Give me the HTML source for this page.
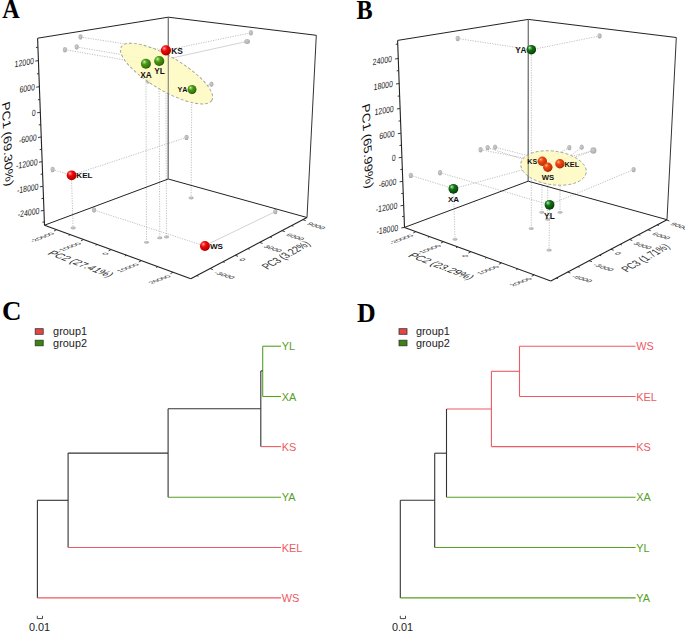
<!DOCTYPE html><html><head><meta charset="utf-8"><style>html,body{margin:0;padding:0;background:#fff;}svg{display:block;}text{font-kerning:none;}</style></head><body>
<svg width="685" height="632" viewBox="0 0 685 632">
<defs>
<radialGradient id="rb" cx="0.4" cy="0.36" r="0.66" fx="0.33" fy="0.3">
<stop offset="0" stop-color="#ffd0d0"/><stop offset="0.14" stop-color="#ff6060"/><stop offset="0.4" stop-color="#ee0808"/><stop offset="0.8" stop-color="#c80000"/><stop offset="1" stop-color="#8a0000"/></radialGradient>
<radialGradient id="gb" cx="0.4" cy="0.36" r="0.66" fx="0.33" fy="0.3">
<stop offset="0" stop-color="#e0ffc0"/><stop offset="0.14" stop-color="#90d058"/><stop offset="0.4" stop-color="#4a9818"/><stop offset="0.8" stop-color="#357808"/><stop offset="1" stop-color="#204c00"/></radialGradient>
<radialGradient id="dgb" cx="0.4" cy="0.36" r="0.66" fx="0.33" fy="0.3">
<stop offset="0" stop-color="#e8ffe8"/><stop offset="0.14" stop-color="#70b870"/><stop offset="0.4" stop-color="#137013"/><stop offset="0.8" stop-color="#085008"/><stop offset="1" stop-color="#032c03"/></radialGradient>
<radialGradient id="ob" cx="0.4" cy="0.36" r="0.66" fx="0.33" fy="0.3">
<stop offset="0" stop-color="#ffd0b0"/><stop offset="0.14" stop-color="#ff7a40"/><stop offset="0.4" stop-color="#e84412"/><stop offset="0.8" stop-color="#cc3406"/><stop offset="1" stop-color="#8a1c00"/></radialGradient>
<radialGradient id="gg" cx="0.4" cy="0.4" r="0.6">
<stop offset="0" stop-color="#cccccc"/><stop offset="1" stop-color="#aaaaaa"/></radialGradient>
</defs>
<g transform="translate(0,0)">
<line x1="80.5" y1="37" x2="165.8" y2="50.3" stroke="#b0b0b0" stroke-width="0.8" stroke-dasharray="1.2,1.3"/>
<line x1="76.7" y1="47" x2="159" y2="60.9" stroke="#b0b0b0" stroke-width="0.8" stroke-dasharray="1.2,1.3"/>
<line x1="64.9" y1="49.7" x2="145.9" y2="63.6" stroke="#b0b0b0" stroke-width="0.8" stroke-dasharray="1.2,1.3"/>
<line x1="250.9" y1="32.8" x2="165.8" y2="50.3" stroke="#b0b0b0" stroke-width="0.8" stroke-dasharray="1.2,1.3"/>
<line x1="247.1" y1="41.4" x2="159" y2="60.9" stroke="#c8c8c8" stroke-width="0.8"/>
<line x1="211.4" y1="84.3" x2="191.8" y2="89.4" stroke="#b0b0b0" stroke-width="0.8" stroke-dasharray="1.2,1.3"/>
<line x1="52.6" y1="169.5" x2="71.4" y2="175.3" stroke="#b0b0b0" stroke-width="0.8" stroke-dasharray="1.2,1.3"/>
<line x1="186.5" y1="137.4" x2="71.4" y2="175.3" stroke="#b0b0b0" stroke-width="0.8" stroke-dasharray="1.2,1.3"/>
<line x1="94" y1="210" x2="204.4" y2="245.9" stroke="#b0b0b0" stroke-width="0.8" stroke-dasharray="1.2,1.3"/>
<line x1="275.3" y1="211.6" x2="204.4" y2="245.9" stroke="#c8c8c8" stroke-width="0.8"/>
<line x1="71.4" y1="175.3" x2="73.1" y2="228" stroke="#b0b0b0" stroke-width="0.8" stroke-dasharray="1.2,1.3"/>
<line x1="145.9" y1="63.6" x2="146.5" y2="242.3" stroke="#b0b0b0" stroke-width="0.8" stroke-dasharray="1.2,1.3"/>
<line x1="159" y1="60.9" x2="159.8" y2="237.9" stroke="#b0b0b0" stroke-width="0.8" stroke-dasharray="1.2,1.3"/>
<line x1="165.8" y1="50.3" x2="166.5" y2="237" stroke="#b0b0b0" stroke-width="0.8" stroke-dasharray="1.2,1.3"/>
<line x1="191.8" y1="89.4" x2="191.1" y2="198" stroke="#b0b0b0" stroke-width="0.8" stroke-dasharray="1.2,1.3"/>
<ellipse cx="80.5" cy="37" rx="2.1" ry="2.69" fill="url(#gg)"/>
<ellipse cx="76.7" cy="47" rx="2.1" ry="2.69" fill="url(#gg)"/>
<ellipse cx="64.9" cy="49.7" rx="2.1" ry="2.69" fill="url(#gg)"/>
<ellipse cx="250.9" cy="32.8" rx="2.1" ry="2.69" fill="url(#gg)"/>
<ellipse cx="247.1" cy="41.4" rx="2.9" ry="2.5" fill="url(#gg)"/>
<ellipse cx="211.4" cy="84.3" rx="2.1" ry="2.69" fill="url(#gg)"/>
<ellipse cx="52.6" cy="169.5" rx="2.1" ry="2.69" fill="url(#gg)"/>
<ellipse cx="186.5" cy="137.4" rx="2.1" ry="2.69" fill="url(#gg)"/>
<ellipse cx="275.3" cy="211.6" rx="2.1" ry="2.69" fill="url(#gg)"/>
<ellipse cx="94" cy="210" rx="2.1" ry="2.69" fill="url(#gg)"/>
<ellipse cx="73.1" cy="228" rx="2.6" ry="1.4" fill="url(#gg)"/>
<ellipse cx="146.5" cy="242.3" rx="2.6" ry="1.4" fill="url(#gg)"/>
<ellipse cx="159.8" cy="237.9" rx="2.6" ry="1.4" fill="url(#gg)"/>
<ellipse cx="166.5" cy="237" rx="2.6" ry="1.4" fill="url(#gg)"/>
<ellipse cx="191.1" cy="198" rx="2.6" ry="1.4" fill="url(#gg)"/>
<ellipse cx="148.3" cy="80.7" rx="2.2" ry="2.82" fill="url(#gg)"/>
<line x1="168.3" y1="17.2" x2="168.2" y2="179" stroke="#777" stroke-width="1"/>
<line x1="44.5" y1="225.2" x2="168.2" y2="179" stroke="#222" stroke-width="1"/>
<line x1="168.2" y1="179" x2="307" y2="217.5" stroke="#222" stroke-width="1"/>
<line x1="37.6" y1="38.2" x2="168.3" y2="17.2" stroke="#222" stroke-width="1"/>
<line x1="168.3" y1="17.2" x2="316.3" y2="35.3" stroke="#222" stroke-width="1"/>
<line x1="316.3" y1="35.3" x2="307" y2="217.5" stroke="#333" stroke-width="1"/>
<line x1="44.5" y1="225.2" x2="37.6" y2="38.2" stroke="#222" stroke-width="1.1"/>
<line x1="44.5" y1="225.2" x2="190.8" y2="278.7" stroke="#222" stroke-width="1.1"/>
<line x1="190.8" y1="278.7" x2="307" y2="217.5" stroke="#222" stroke-width="1.1"/>
<ellipse cx="166.6" cy="73.6" rx="52.6" ry="16.8" transform="rotate(30.5 166.6 73.6)" fill="#fffac0" fill-opacity="0.85" stroke="#a0a098" stroke-width="0.9" stroke-dasharray="3,2"/>
<line x1="168.3" y1="17.2" x2="168.2" y2="179" stroke="#777" stroke-width="1"/>
<line x1="35.93" y1="47.5" x2="37.93" y2="47.2" stroke="#222" stroke-width="0.9"/>
<line x1="35.23" y1="61.1" x2="38.43" y2="60.6" stroke="#222" stroke-width="0.9"/>
<text x="0" y="0" font-family='"Liberation Sans", sans-serif' font-size="8.9" fill="#222" text-anchor="end" font-weight="normal" transform="matrix(0.7780 -0.1374 -0.0300 0.9996 33.83 63.90)">12000</text>
<line x1="36.91" y1="73.9" x2="38.91" y2="73.6" stroke="#222" stroke-width="0.9"/>
<line x1="36.19" y1="87.2" x2="39.39" y2="86.7" stroke="#222" stroke-width="0.9"/>
<text x="0" y="0" font-family='"Liberation Sans", sans-serif' font-size="8.9" fill="#222" text-anchor="end" font-weight="normal" transform="matrix(0.7780 -0.1374 -0.0300 0.9996 34.79 90.00)">6000</text>
<line x1="37.86" y1="99.8" x2="39.86" y2="99.5" stroke="#222" stroke-width="0.9"/>
<line x1="37.13" y1="112.8" x2="40.33" y2="112.3" stroke="#222" stroke-width="0.9"/>
<text x="0" y="0" font-family='"Liberation Sans", sans-serif' font-size="8.9" fill="#222" text-anchor="end" font-weight="normal" transform="matrix(0.7780 -0.1374 -0.0300 0.9996 35.73 115.60)">0</text>
<line x1="38.79" y1="124.9" x2="40.79" y2="124.6" stroke="#222" stroke-width="0.9"/>
<line x1="38.05" y1="137.5" x2="41.25" y2="137" stroke="#222" stroke-width="0.9"/>
<text x="0" y="0" font-family='"Liberation Sans", sans-serif' font-size="8.9" fill="#222" text-anchor="end" font-weight="normal" transform="matrix(0.7780 -0.1374 -0.0300 0.9996 36.65 140.30)">-6000</text>
<line x1="39.7" y1="149.6" x2="41.7" y2="149.3" stroke="#222" stroke-width="0.9"/>
<line x1="38.96" y1="162.2" x2="42.16" y2="161.7" stroke="#222" stroke-width="0.9"/>
<text x="0" y="0" font-family='"Liberation Sans", sans-serif' font-size="8.9" fill="#222" text-anchor="end" font-weight="normal" transform="matrix(0.7780 -0.1374 -0.0300 0.9996 37.56 165.00)">-12000</text>
<line x1="40.61" y1="174.3" x2="42.61" y2="174" stroke="#222" stroke-width="0.9"/>
<line x1="39.86" y1="186.8" x2="43.06" y2="186.3" stroke="#222" stroke-width="0.9"/>
<text x="0" y="0" font-family='"Liberation Sans", sans-serif' font-size="8.9" fill="#222" text-anchor="end" font-weight="normal" transform="matrix(0.7780 -0.1374 -0.0300 0.9996 38.46 189.60)">-18000</text>
<line x1="41.51" y1="198.6" x2="43.51" y2="198.3" stroke="#222" stroke-width="0.9"/>
<line x1="40.75" y1="210.9" x2="43.95" y2="210.4" stroke="#222" stroke-width="0.9"/>
<text x="0" y="0" font-family='"Liberation Sans", sans-serif' font-size="8.9" fill="#222" text-anchor="end" font-weight="normal" transform="matrix(0.7780 -0.1374 -0.0300 0.9996 39.35 213.70)">-24000</text>
<line x1="42.38" y1="222.2" x2="44.38" y2="221.9" stroke="#222" stroke-width="0.9"/>
<line x1="56.64" y1="229.64" x2="54.04" y2="231.04" stroke="#222" stroke-width="0.9"/>
<text x="0" y="0" font-family='"Liberation Sans", sans-serif' font-size="8.0" fill="#333" text-anchor="end" font-weight="normal" transform="matrix(0.8871 -0.3400 0.7523 0.2721 55.04 233.84)">-20000</text>
<line x1="70.25" y1="234.62" x2="68.65" y2="235.47" stroke="#222" stroke-width="0.9"/>
<line x1="83.56" y1="239.48" x2="80.96" y2="240.88" stroke="#222" stroke-width="0.9"/>
<text x="0" y="0" font-family='"Liberation Sans", sans-serif' font-size="8.0" fill="#333" text-anchor="end" font-weight="normal" transform="matrix(0.8871 -0.3400 0.7523 0.2721 81.96 243.68)">-10000</text>
<line x1="97.17" y1="244.46" x2="95.57" y2="245.31" stroke="#222" stroke-width="0.9"/>
<line x1="111.07" y1="249.54" x2="108.47" y2="250.94" stroke="#222" stroke-width="0.9"/>
<text x="0" y="0" font-family='"Liberation Sans", sans-serif' font-size="8.0" fill="#333" text-anchor="end" font-weight="normal" transform="matrix(0.8871 -0.3400 0.7523 0.2721 109.47 253.74)">0</text>
<line x1="126.43" y1="255.16" x2="124.83" y2="256.01" stroke="#222" stroke-width="0.9"/>
<line x1="141.35" y1="260.62" x2="138.75" y2="262.02" stroke="#222" stroke-width="0.9"/>
<text x="0" y="0" font-family='"Liberation Sans", sans-serif' font-size="8.0" fill="#333" text-anchor="end" font-weight="normal" transform="matrix(0.8871 -0.3400 0.7523 0.2721 139.75 264.82)">10000</text>
<line x1="157.74" y1="266.61" x2="156.14" y2="267.46" stroke="#222" stroke-width="0.9"/>
<line x1="173.1" y1="272.23" x2="170.5" y2="273.63" stroke="#222" stroke-width="0.9"/>
<text x="0" y="0" font-family='"Liberation Sans", sans-serif' font-size="8.0" fill="#333" text-anchor="end" font-weight="normal" transform="matrix(0.8871 -0.3400 0.7523 0.2721 171.50 276.43)">20000</text>
<line x1="196.73" y1="275.58" x2="198.43" y2="276.18" stroke="#222" stroke-width="0.9"/>
<line x1="210.09" y1="268.54" x2="212.89" y2="269.54" stroke="#222" stroke-width="0.9"/>
<text x="0" y="0" font-family='"Liberation Sans", sans-serif' font-size="8.0" fill="#333" text-anchor="start" font-weight="normal" transform="matrix(0.9031 0.2947 -0.7057 0.3769 213.29 273.14)">-3000</text>
<line x1="222.99" y1="261.75" x2="224.69" y2="262.35" stroke="#222" stroke-width="0.9"/>
<line x1="235.19" y1="255.32" x2="237.99" y2="256.32" stroke="#222" stroke-width="0.9"/>
<text x="0" y="0" font-family='"Liberation Sans", sans-serif' font-size="8.0" fill="#333" text-anchor="start" font-weight="normal" transform="matrix(0.9031 0.2947 -0.7057 0.3769 238.39 259.92)">0</text>
<line x1="247.97" y1="248.59" x2="249.67" y2="249.19" stroke="#222" stroke-width="0.9"/>
<line x1="259.71" y1="242.41" x2="262.51" y2="243.41" stroke="#222" stroke-width="0.9"/>
<text x="0" y="0" font-family='"Liberation Sans", sans-serif' font-size="8.0" fill="#333" text-anchor="start" font-weight="normal" transform="matrix(0.9031 0.2947 -0.7057 0.3769 262.91 247.01)">3000</text>
<line x1="270.16" y1="236.9" x2="271.86" y2="237.5" stroke="#222" stroke-width="0.9"/>
<line x1="282.02" y1="230.66" x2="284.82" y2="231.66" stroke="#222" stroke-width="0.9"/>
<text x="0" y="0" font-family='"Liberation Sans", sans-serif' font-size="8.0" fill="#333" text-anchor="start" font-weight="normal" transform="matrix(0.9031 0.2947 -0.7057 0.3769 285.22 235.26)">6000</text>
<line x1="291.66" y1="225.58" x2="293.36" y2="226.18" stroke="#222" stroke-width="0.9"/>
<line x1="302.93" y1="219.64" x2="305.73" y2="220.64" stroke="#222" stroke-width="0.9"/>
<text x="0" y="0" font-family='"Liberation Sans", sans-serif' font-size="8.0" fill="#333" text-anchor="start" font-weight="normal" transform="matrix(0.9031 0.2947 -0.7057 0.3769 306.13 224.24)">9000</text>
<text x="0" y="0" font-family='"Liberation Sans", sans-serif' font-size="12.5" fill="#111" text-anchor="start" font-weight="normal" transform="matrix(0.0481 1.0689 -0.8899 0.3324 1.90 103.40)">PC1 (69.30%)</text>
<text x="0" y="0" font-family='"Liberation Sans", sans-serif' font-size="11" fill="#2a2a2a" text-anchor="start" font-weight="normal" transform="matrix(0.8964 0.3436 -0.8601 0.5101 46.80 253.90)">PC2 (27.41%)</text>
<text x="0" y="0" font-family='"Liberation Sans", sans-serif' font-size="11" fill="#333" text-anchor="start" font-weight="normal" transform="matrix(0.6928 -0.4000 0.8910 0.5556 267.40 269.80)">PC3 (3.22%)</text>
<circle cx="71.6" cy="175.3" r="4.9" fill="url(#rb)"/>
<text x="76.3" y="177.9" font-family='"Liberation Sans", sans-serif' font-size="8.1" fill="#111" text-anchor="start" font-weight="bold">KEL</text>
<circle cx="165.9" cy="50.3" r="5.1" fill="url(#rb)"/>
<text x="171.3" y="53.5" font-family='"Liberation Sans", sans-serif' font-size="8.3" fill="#111" text-anchor="start" font-weight="bold">KS</text>
<circle cx="145.9" cy="63.8" r="5" fill="url(#gb)"/>
<text x="146" y="77.5" font-family='"Liberation Sans", sans-serif' font-size="8.3" fill="#111" text-anchor="middle" font-weight="bold">XA</text>
<circle cx="159.2" cy="61" r="5.1" fill="url(#gb)"/>
<text x="159.45" y="74.4" font-family='"Liberation Sans", sans-serif' font-size="8.3" fill="#111" text-anchor="middle" font-weight="bold">YL</text>
<circle cx="192" cy="89.5" r="4.45" fill="url(#gb)"/>
<text x="187.4" y="91.8" font-family='"Liberation Sans", sans-serif' font-size="7.2" fill="#111" text-anchor="end" font-weight="bold">YA</text>
<circle cx="204.9" cy="246" r="4.95" fill="url(#rb)"/>
<text x="209.9" y="248.9" font-family='"Liberation Sans", sans-serif' font-size="8.1" fill="#111" text-anchor="start" font-weight="bold">WS</text>
</g>
<g transform="translate(360,2.2)">
<line x1="97.7" y1="36.3" x2="171.3" y2="47.5" stroke="#b0b0b0" stroke-width="0.8" stroke-dasharray="1.2,1.3"/>
<line x1="239.6" y1="33.8" x2="171.3" y2="47.5" stroke="#b0b0b0" stroke-width="0.8" stroke-dasharray="1.2,1.3"/>
<line x1="171.3" y1="47.5" x2="171.3" y2="226.4" stroke="#b0b0b0" stroke-width="0.8" stroke-dasharray="1.2,1.3"/>
<line x1="50.8" y1="173.2" x2="93.5" y2="186.5" stroke="#b0b0b0" stroke-width="0.8" stroke-dasharray="1.2,1.3"/>
<line x1="93.5" y1="186.5" x2="95" y2="237.1" stroke="#b0b0b0" stroke-width="0.8" stroke-dasharray="1.2,1.3"/>
<line x1="273.6" y1="167.4" x2="189.5" y2="202.6" stroke="#b0b0b0" stroke-width="0.8" stroke-dasharray="1.2,1.3"/>
<line x1="189.5" y1="202.6" x2="189.1" y2="248" stroke="#b0b0b0" stroke-width="0.8" stroke-dasharray="1.2,1.3"/>
<line x1="80" y1="170.5" x2="189.5" y2="202.6" stroke="#b0b0b0" stroke-width="0.8" stroke-dasharray="1.2,1.3"/>
<line x1="93.4" y1="186.6" x2="233.4" y2="148.3" stroke="#b0b0b0" stroke-width="0.8" stroke-dasharray="1.2,1.3"/>
<line x1="120.6" y1="147.5" x2="182.2" y2="159.4" stroke="#b0b0b0" stroke-width="0.8" stroke-dasharray="1.2,1.3"/>
<line x1="127.6" y1="145.4" x2="187.8" y2="165.2" stroke="#b0b0b0" stroke-width="0.8" stroke-dasharray="1.2,1.3"/>
<line x1="135" y1="145.1" x2="200" y2="161.5" stroke="#b0b0b0" stroke-width="0.8" stroke-dasharray="1.2,1.3"/>
<line x1="209.3" y1="145.4" x2="182.2" y2="159.4" stroke="#b0b0b0" stroke-width="0.8" stroke-dasharray="1.2,1.3"/>
<line x1="221.7" y1="145.1" x2="200" y2="161.5" stroke="#b0b0b0" stroke-width="0.8" stroke-dasharray="1.2,1.3"/>
<line x1="233.4" y1="148.3" x2="187.8" y2="165.2" stroke="#b0b0b0" stroke-width="0.8" stroke-dasharray="1.2,1.3"/>
<line x1="182.2" y1="159.4" x2="181.8" y2="210.1" stroke="#b0b0b0" stroke-width="0.8" stroke-dasharray="1.2,1.3"/>
<line x1="187.8" y1="165.2" x2="187.6" y2="217.1" stroke="#b0b0b0" stroke-width="0.8" stroke-dasharray="1.2,1.3"/>
<line x1="200" y1="161.5" x2="200" y2="210.1" stroke="#b0b0b0" stroke-width="0.8" stroke-dasharray="1.2,1.3"/>
<ellipse cx="97.7" cy="36.3" rx="2.1" ry="2.69" fill="url(#gg)"/>
<ellipse cx="239.6" cy="33.8" rx="2.1" ry="2.69" fill="url(#gg)"/>
<ellipse cx="50.8" cy="173.2" rx="2.1" ry="2.69" fill="url(#gg)"/>
<ellipse cx="80" cy="170.5" rx="2.1" ry="2.69" fill="url(#gg)"/>
<ellipse cx="273.6" cy="167.4" rx="2.1" ry="2.69" fill="url(#gg)"/>
<ellipse cx="120.6" cy="147.5" rx="2.1" ry="2.69" fill="url(#gg)"/>
<ellipse cx="127.6" cy="145.4" rx="2.1" ry="2.69" fill="url(#gg)"/>
<ellipse cx="135" cy="145.1" rx="2.1" ry="2.69" fill="url(#gg)"/>
<ellipse cx="209.3" cy="145.4" rx="2.1" ry="2.69" fill="url(#gg)"/>
<ellipse cx="221.7" cy="145.1" rx="2.1" ry="2.69" fill="url(#gg)"/>
<ellipse cx="233.4" cy="148.3" rx="3" ry="3.3" fill="url(#gg)"/>
<ellipse cx="95" cy="237.1" rx="2.6" ry="1.4" fill="url(#gg)"/>
<ellipse cx="189.1" cy="248" rx="2.6" ry="1.4" fill="url(#gg)"/>
<ellipse cx="171.2" cy="226.4" rx="2.6" ry="1.4" fill="url(#gg)"/>
<ellipse cx="181.8" cy="210.1" rx="2.6" ry="1.4" fill="url(#gg)"/>
<ellipse cx="200" cy="210.1" rx="2.6" ry="1.4" fill="url(#gg)"/>
<ellipse cx="187.6" cy="217.1" rx="2.6" ry="1.4" fill="url(#gg)"/>
<line x1="168.3" y1="17.2" x2="168.2" y2="179" stroke="#777" stroke-width="1"/>
<line x1="44.5" y1="225.2" x2="168.2" y2="179" stroke="#222" stroke-width="1"/>
<line x1="168.2" y1="179" x2="307" y2="217.5" stroke="#222" stroke-width="1"/>
<line x1="37.6" y1="38.2" x2="168.3" y2="17.2" stroke="#222" stroke-width="1"/>
<line x1="168.3" y1="17.2" x2="316.3" y2="35.3" stroke="#222" stroke-width="1"/>
<line x1="316.3" y1="35.3" x2="307" y2="217.5" stroke="#333" stroke-width="1"/>
<line x1="44.5" y1="225.2" x2="37.6" y2="38.2" stroke="#222" stroke-width="1.1"/>
<line x1="44.5" y1="225.2" x2="190.8" y2="278.7" stroke="#222" stroke-width="1.1"/>
<line x1="190.8" y1="278.7" x2="307" y2="217.5" stroke="#222" stroke-width="1.1"/>
<ellipse cx="193.5" cy="165.8" rx="33" ry="16.8" transform="rotate(8 193.5 165.8)" fill="#fffac0" fill-opacity="0.85" stroke="#a0a098" stroke-width="0.9" stroke-dasharray="3,2"/>
<line x1="168.3" y1="17.2" x2="168.2" y2="179" stroke="#777" stroke-width="1"/>
<line x1="35.73" y1="42.1" x2="37.73" y2="41.8" stroke="#222" stroke-width="0.9"/>
<line x1="35.07" y1="56.8" x2="38.27" y2="56.3" stroke="#222" stroke-width="0.9"/>
<text x="0" y="0" font-family='"Liberation Sans", sans-serif' font-size="8.9" fill="#222" text-anchor="end" font-weight="normal" transform="matrix(0.7780 -0.1374 -0.0300 0.9996 31.87 59.60)">24000</text>
<line x1="36.71" y1="68.7" x2="38.71" y2="68.4" stroke="#222" stroke-width="0.9"/>
<line x1="35.99" y1="81.8" x2="39.19" y2="81.3" stroke="#222" stroke-width="0.9"/>
<text x="0" y="0" font-family='"Liberation Sans", sans-serif' font-size="8.9" fill="#222" text-anchor="end" font-weight="normal" transform="matrix(0.7780 -0.1374 -0.0300 0.9996 32.79 84.60)">18000</text>
<line x1="37.65" y1="94" x2="39.65" y2="93.7" stroke="#222" stroke-width="0.9"/>
<line x1="36.91" y1="106.8" x2="40.11" y2="106.3" stroke="#222" stroke-width="0.9"/>
<text x="0" y="0" font-family='"Liberation Sans", sans-serif' font-size="8.9" fill="#222" text-anchor="end" font-weight="normal" transform="matrix(0.7780 -0.1374 -0.0300 0.9996 33.71 109.60)">12000</text>
<line x1="38.57" y1="118.9" x2="40.57" y2="118.6" stroke="#222" stroke-width="0.9"/>
<line x1="37.82" y1="131.5" x2="41.02" y2="131" stroke="#222" stroke-width="0.9"/>
<text x="0" y="0" font-family='"Liberation Sans", sans-serif' font-size="8.9" fill="#222" text-anchor="end" font-weight="normal" transform="matrix(0.7780 -0.1374 -0.0300 0.9996 34.62 134.30)">6000</text>
<line x1="39.47" y1="143.3" x2="41.47" y2="143" stroke="#222" stroke-width="0.9"/>
<line x1="38.71" y1="155.6" x2="41.91" y2="155.1" stroke="#222" stroke-width="0.9"/>
<text x="0" y="0" font-family='"Liberation Sans", sans-serif' font-size="8.9" fill="#222" text-anchor="end" font-weight="normal" transform="matrix(0.7780 -0.1374 -0.0300 0.9996 35.51 158.40)">0</text>
<line x1="40.36" y1="167.4" x2="42.36" y2="167.1" stroke="#222" stroke-width="0.9"/>
<line x1="39.6" y1="179.6" x2="42.8" y2="179.1" stroke="#222" stroke-width="0.9"/>
<text x="0" y="0" font-family='"Liberation Sans", sans-serif' font-size="8.9" fill="#222" text-anchor="end" font-weight="normal" transform="matrix(0.7780 -0.1374 -0.0300 0.9996 36.40 182.40)">-6000</text>
<line x1="41.24" y1="191.4" x2="43.24" y2="191.1" stroke="#222" stroke-width="0.9"/>
<line x1="40.48" y1="203.6" x2="43.68" y2="203.1" stroke="#222" stroke-width="0.9"/>
<text x="0" y="0" font-family='"Liberation Sans", sans-serif' font-size="8.9" fill="#222" text-anchor="end" font-weight="normal" transform="matrix(0.7780 -0.1374 -0.0300 0.9996 37.28 206.40)">-12000</text>
<line x1="42.09" y1="214.4" x2="44.09" y2="214.1" stroke="#222" stroke-width="0.9"/>
<line x1="41.3" y1="225.7" x2="44.5" y2="225.2" stroke="#222" stroke-width="0.9"/>
<text x="0" y="0" font-family='"Liberation Sans", sans-serif' font-size="8.9" fill="#222" text-anchor="end" font-weight="normal" transform="matrix(0.7780 -0.1374 -0.0300 0.9996 38.10 228.50)">-18000</text>
<line x1="55.91" y1="229.37" x2="53.31" y2="230.77" stroke="#222" stroke-width="0.9"/>
<text x="0" y="0" font-family='"Liberation Sans", sans-serif' font-size="8.0" fill="#333" text-anchor="end" font-weight="normal" transform="matrix(0.8871 -0.3400 0.7523 0.2721 54.31 233.57)">-20000</text>
<line x1="69.52" y1="234.35" x2="67.92" y2="235.2" stroke="#222" stroke-width="0.9"/>
<line x1="83.56" y1="239.48" x2="80.96" y2="240.88" stroke="#222" stroke-width="0.9"/>
<text x="0" y="0" font-family='"Liberation Sans", sans-serif' font-size="8.0" fill="#333" text-anchor="end" font-weight="normal" transform="matrix(0.8871 -0.3400 0.7523 0.2721 81.96 243.68)">-10000</text>
<line x1="97.61" y1="244.62" x2="96.01" y2="245.47" stroke="#222" stroke-width="0.9"/>
<line x1="110.92" y1="249.49" x2="108.32" y2="250.89" stroke="#222" stroke-width="0.9"/>
<text x="0" y="0" font-family='"Liberation Sans", sans-serif' font-size="8.0" fill="#333" text-anchor="end" font-weight="normal" transform="matrix(0.8871 -0.3400 0.7523 0.2721 109.32 253.69)">0</text>
<line x1="126.72" y1="255.27" x2="125.12" y2="256.12" stroke="#222" stroke-width="0.9"/>
<line x1="141.5" y1="260.67" x2="138.9" y2="262.07" stroke="#222" stroke-width="0.9"/>
<text x="0" y="0" font-family='"Liberation Sans", sans-serif' font-size="8.0" fill="#333" text-anchor="end" font-weight="normal" transform="matrix(0.8871 -0.3400 0.7523 0.2721 139.90 264.87)">10000</text>
<line x1="157.88" y1="266.66" x2="156.28" y2="267.51" stroke="#222" stroke-width="0.9"/>
<line x1="174.27" y1="272.65" x2="171.67" y2="274.05" stroke="#222" stroke-width="0.9"/>
<text x="0" y="0" font-family='"Liberation Sans", sans-serif' font-size="8.0" fill="#333" text-anchor="end" font-weight="normal" transform="matrix(0.8871 -0.3400 0.7523 0.2721 172.67 276.85)">20000</text>
<line x1="196.26" y1="275.82" x2="197.96" y2="276.42" stroke="#222" stroke-width="0.9"/>
<line x1="207.65" y1="269.83" x2="210.45" y2="270.83" stroke="#222" stroke-width="0.9"/>
<text x="0" y="0" font-family='"Liberation Sans", sans-serif' font-size="8.0" fill="#333" text-anchor="start" font-weight="normal" transform="matrix(0.9031 0.2947 -0.7057 0.3769 210.85 274.43)">-6000</text>
<line x1="217.87" y1="264.44" x2="219.57" y2="265.04" stroke="#222" stroke-width="0.9"/>
<line x1="229.15" y1="258.5" x2="231.95" y2="259.5" stroke="#222" stroke-width="0.9"/>
<text x="0" y="0" font-family='"Liberation Sans", sans-serif' font-size="8.0" fill="#333" text-anchor="start" font-weight="normal" transform="matrix(0.9031 0.2947 -0.7057 0.3769 232.35 263.10)">-3000</text>
<line x1="239.6" y1="253" x2="241.3" y2="253.6" stroke="#222" stroke-width="0.9"/>
<line x1="250.88" y1="247.06" x2="253.68" y2="248.06" stroke="#222" stroke-width="0.9"/>
<text x="0" y="0" font-family='"Liberation Sans", sans-serif' font-size="8.0" fill="#333" text-anchor="start" font-weight="normal" transform="matrix(0.9031 0.2947 -0.7057 0.3769 254.08 251.66)">0</text>
<line x1="260.17" y1="242.16" x2="261.87" y2="242.76" stroke="#222" stroke-width="0.9"/>
<line x1="269.47" y1="237.27" x2="272.27" y2="238.27" stroke="#222" stroke-width="0.9"/>
<text x="0" y="0" font-family='"Liberation Sans", sans-serif' font-size="8.0" fill="#333" text-anchor="start" font-weight="normal" transform="matrix(0.9031 0.2947 -0.7057 0.3769 272.67 241.87)">3000</text>
<line x1="278.65" y1="232.43" x2="280.35" y2="233.03" stroke="#222" stroke-width="0.9"/>
<line x1="287.94" y1="227.54" x2="290.74" y2="228.54" stroke="#222" stroke-width="0.9"/>
<text x="0" y="0" font-family='"Liberation Sans", sans-serif' font-size="8.0" fill="#333" text-anchor="start" font-weight="normal" transform="matrix(0.9031 0.2947 -0.7057 0.3769 291.14 232.14)">6000</text>
<line x1="297.24" y1="222.64" x2="298.94" y2="223.24" stroke="#222" stroke-width="0.9"/>
<line x1="306.54" y1="217.74" x2="309.34" y2="218.74" stroke="#222" stroke-width="0.9"/>
<text x="0" y="0" font-family='"Liberation Sans", sans-serif' font-size="8.0" fill="#333" text-anchor="start" font-weight="normal" transform="matrix(0.9031 0.2947 -0.7057 0.3769 309.74 222.34)">9000</text>
<text x="0" y="0" font-family='"Liberation Sans", sans-serif' font-size="12.5" fill="#111" text-anchor="start" font-weight="normal" transform="matrix(0.0481 1.0689 -0.8899 0.3324 1.90 103.40)">PC1 (65.99%)</text>
<text x="0" y="0" font-family='"Liberation Sans", sans-serif' font-size="11" fill="#2a2a2a" text-anchor="start" font-weight="normal" transform="matrix(0.8964 0.3436 -0.8601 0.5101 47.30 254.10)">PC2 (23.29%)</text>
<text x="0" y="0" font-family='"Liberation Sans", sans-serif' font-size="11" fill="#333" text-anchor="start" font-weight="normal" transform="matrix(0.6928 -0.4000 0.8910 0.5556 267.00 270.30)">PC3 (1.71%)</text>
<circle cx="171.3" cy="47.5" r="4.8" fill="url(#dgb)"/>
<text x="166.5" y="51" font-family='"Liberation Sans", sans-serif' font-size="8.2" fill="#111" text-anchor="end" font-weight="bold">YA</text>
<circle cx="93.4" cy="186.6" r="4.9" fill="url(#dgb)"/>
<text x="93.6" y="199.5" font-family='"Liberation Sans", sans-serif' font-size="8.1" fill="#111" text-anchor="middle" font-weight="bold">XA</text>
<circle cx="189.5" cy="202.6" r="4.9" fill="url(#dgb)"/>
<text x="189.4" y="216.4" font-family='"Liberation Sans", sans-serif' font-size="8.3" fill="#111" text-anchor="middle" font-weight="bold">YL</text>
<circle cx="182.3" cy="159.1" r="4.7" fill="url(#ob)"/>
<text x="177.2" y="162.1" font-family='"Liberation Sans", sans-serif' font-size="7.1" fill="#111" text-anchor="end" font-weight="bold">KS</text>
<circle cx="199.9" cy="161.6" r="4.7" fill="url(#ob)"/>
<text x="204.5" y="164.4" font-family='"Liberation Sans", sans-serif' font-size="7.4" fill="#111" text-anchor="start" font-weight="bold">KEL</text>
<circle cx="187.8" cy="165" r="4.7" fill="url(#ob)"/>
<text x="187.9" y="177.4" font-family='"Liberation Sans", sans-serif' font-size="7.7" fill="#111" text-anchor="middle" font-weight="bold">WS</text>
</g>
<text x="0" y="0" font-family='"Liberation Serif", serif' font-size="23.5" fill="#000" text-anchor="start" font-weight="bold" transform="translate(2.3 18.4) scale(1.03 1.12)">A</text>
<text x="0" y="0" font-family='"Liberation Serif", serif' font-size="23.5" fill="#000" text-anchor="start" font-weight="bold" transform="translate(356.5 18.5) scale(1.03 1.12)">B</text>
<text x="0" y="0" font-family='"Liberation Serif", serif' font-size="23.5" fill="#000" text-anchor="start" font-weight="bold" transform="translate(2.1 320) scale(1.15 1.12)">C</text>
<text x="0" y="0" font-family='"Liberation Serif", serif' font-size="23.5" fill="#000" text-anchor="start" font-weight="bold" transform="translate(357 322.4) scale(1.1 1.12)">D</text>
<rect x="35.2" y="328.7" width="8" height="5.6" fill="#e84444" stroke="#333" stroke-width="0.8"/>
<rect x="35.2" y="340.2" width="8" height="5.6" fill="#3a8410" stroke="#333" stroke-width="0.8"/>
<text x="53.1" y="335" font-family='"Liberation Sans", sans-serif' font-size="10.9" fill="#222" text-anchor="start" font-weight="normal">group1</text>
<text x="53.1" y="346.5" font-family='"Liberation Sans", sans-serif' font-size="10.9" fill="#222" text-anchor="start" font-weight="normal">group2</text>
<rect x="399.0" y="328.7" width="8" height="5.6" fill="#e84444" stroke="#333" stroke-width="0.8"/>
<rect x="399.0" y="340.2" width="8" height="5.6" fill="#3a8410" stroke="#333" stroke-width="0.8"/>
<text x="415.9" y="335" font-family='"Liberation Sans", sans-serif' font-size="10.9" fill="#222" text-anchor="start" font-weight="normal">group1</text>
<text x="415.9" y="346.5" font-family='"Liberation Sans", sans-serif' font-size="10.9" fill="#222" text-anchor="start" font-weight="normal">group2</text>
<line x1="262.7" y1="346.2" x2="281" y2="346.2" stroke="#55a025" stroke-width="1.1"/>
<line x1="262.7" y1="396.5" x2="281" y2="396.5" stroke="#55a025" stroke-width="1.1"/>
<line x1="262.7" y1="346.2" x2="262.7" y2="396.5" stroke="#55a025" stroke-width="1.1"/>
<line x1="260.8" y1="446.6" x2="281" y2="446.6" stroke="#ec5a64" stroke-width="1.1"/>
<line x1="260.8" y1="370.9" x2="262.7" y2="370.9" stroke="#333" stroke-width="1.1"/>
<line x1="260.8" y1="370.9" x2="260.8" y2="446.6" stroke="#333" stroke-width="1.1"/>
<line x1="168.1" y1="408.7" x2="260.8" y2="408.7" stroke="#333" stroke-width="1.1"/>
<line x1="168.1" y1="408.7" x2="168.1" y2="497.2" stroke="#333" stroke-width="1.1"/>
<line x1="168.1" y1="497.2" x2="281" y2="497.2" stroke="#55a025" stroke-width="1.1"/>
<line x1="68.1" y1="453.1" x2="168.1" y2="453.1" stroke="#333" stroke-width="1.1"/>
<line x1="68.1" y1="453.1" x2="68.1" y2="547.5" stroke="#333" stroke-width="1.1"/>
<line x1="68.1" y1="547.5" x2="281" y2="547.5" stroke="#ec5a64" stroke-width="1.1"/>
<line x1="37.4" y1="500.3" x2="68.1" y2="500.3" stroke="#333" stroke-width="1.1"/>
<line x1="37.4" y1="500.3" x2="37.4" y2="597.9" stroke="#333" stroke-width="1.1"/>
<line x1="37.4" y1="597.9" x2="281" y2="597.9" stroke="#ec5a64" stroke-width="1.1"/>
<text x="281.7" y="350.3" font-family='"Liberation Sans", sans-serif' font-size="10.9" fill="#55a025" text-anchor="start" font-weight="normal" style="font-kerning:normal">YL</text>
<text x="281.7" y="400.6" font-family='"Liberation Sans", sans-serif' font-size="10.9" fill="#55a025" text-anchor="start" font-weight="normal" style="font-kerning:normal">XA</text>
<text x="281.7" y="450.7" font-family='"Liberation Sans", sans-serif' font-size="10.9" fill="#ec5a64" text-anchor="start" font-weight="normal" style="font-kerning:normal">KS</text>
<text x="281.7" y="501.3" font-family='"Liberation Sans", sans-serif' font-size="10.9" fill="#55a025" text-anchor="start" font-weight="normal" style="font-kerning:normal">YA</text>
<text x="281.7" y="551.6" font-family='"Liberation Sans", sans-serif' font-size="10.9" fill="#ec5a64" text-anchor="start" font-weight="normal" style="font-kerning:normal">KEL</text>
<text x="281.7" y="602" font-family='"Liberation Sans", sans-serif' font-size="10.9" fill="#ec5a64" text-anchor="start" font-weight="normal" style="font-kerning:normal">WS</text>
<line x1="519.5" y1="346.2" x2="635.6" y2="346.2" stroke="#ec5a64" stroke-width="1.1"/>
<line x1="519.5" y1="396.5" x2="635.6" y2="396.5" stroke="#ec5a64" stroke-width="1.1"/>
<line x1="519.5" y1="346.2" x2="519.5" y2="396.5" stroke="#ec5a64" stroke-width="1.1"/>
<line x1="491.4" y1="371.3" x2="519.5" y2="371.3" stroke="#ec5a64" stroke-width="1.1"/>
<line x1="491.4" y1="371.3" x2="491.4" y2="446.6" stroke="#ec5a64" stroke-width="1.1"/>
<line x1="491.4" y1="446.6" x2="635.6" y2="446.6" stroke="#ec5a64" stroke-width="1.1"/>
<line x1="446.5" y1="409" x2="491.4" y2="409" stroke="#ec5a64" stroke-width="1.1"/>
<line x1="446.5" y1="409" x2="446.5" y2="497.2" stroke="#333" stroke-width="1.1"/>
<line x1="446.5" y1="497.2" x2="635.6" y2="497.2" stroke="#55a025" stroke-width="1.1"/>
<line x1="434.7" y1="453.2" x2="446.5" y2="453.2" stroke="#333" stroke-width="1.1"/>
<line x1="434.7" y1="453.2" x2="434.7" y2="547.5" stroke="#333" stroke-width="1.1"/>
<line x1="434.7" y1="547.5" x2="635.6" y2="547.5" stroke="#55a025" stroke-width="1.1"/>
<line x1="400.3" y1="500.3" x2="434.7" y2="500.3" stroke="#333" stroke-width="1.1"/>
<line x1="400.3" y1="500.3" x2="400.3" y2="597.9" stroke="#333" stroke-width="1.1"/>
<line x1="400.3" y1="597.9" x2="635.6" y2="597.9" stroke="#55a025" stroke-width="1.1"/>
<text x="636.3" y="350.3" font-family='"Liberation Sans", sans-serif' font-size="10.9" fill="#ec5a64" text-anchor="start" font-weight="normal" style="font-kerning:normal">WS</text>
<text x="636.3" y="400.6" font-family='"Liberation Sans", sans-serif' font-size="10.9" fill="#ec5a64" text-anchor="start" font-weight="normal" style="font-kerning:normal">KEL</text>
<text x="636.3" y="450.7" font-family='"Liberation Sans", sans-serif' font-size="10.9" fill="#ec5a64" text-anchor="start" font-weight="normal" style="font-kerning:normal">KS</text>
<text x="636.3" y="501.3" font-family='"Liberation Sans", sans-serif' font-size="10.9" fill="#55a025" text-anchor="start" font-weight="normal" style="font-kerning:normal">XA</text>
<text x="636.3" y="551.6" font-family='"Liberation Sans", sans-serif' font-size="10.9" fill="#55a025" text-anchor="start" font-weight="normal" style="font-kerning:normal">YL</text>
<text x="636.3" y="602" font-family='"Liberation Sans", sans-serif' font-size="10.9" fill="#55a025" text-anchor="start" font-weight="normal" style="font-kerning:normal">YA</text>
<path d="M37.3 615.8 V618.6 H42.5 V615.8" fill="none" stroke="#333" stroke-width="0.9"/>
<text x="39.6" y="630.8" font-family='"Liberation Sans", sans-serif' font-size="10.9" fill="#222" text-anchor="middle" font-weight="normal">0.01</text>
<path d="M400.3 615.8 V618.6 H405.5 V615.8" fill="none" stroke="#333" stroke-width="0.9"/>
<text x="402.6" y="630.8" font-family='"Liberation Sans", sans-serif' font-size="10.9" fill="#222" text-anchor="middle" font-weight="normal">0.01</text>
</svg></body></html>
